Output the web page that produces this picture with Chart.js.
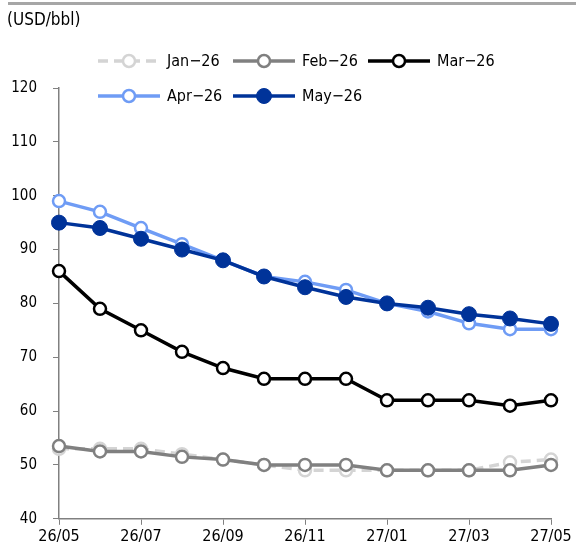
<!DOCTYPE html>
<html>
    <head>
        <meta charset="UTF-8">
        <title>Oil futures curve</title>
        <script src="https://cdn.jsdelivr.net/npm/chart.js@4.4.1/dist/chart.umd.min.js"></script>
        <style>
            html,body{margin:0;padding:0;background:#fff;}
            #chartContainer{width:576px;height:554px;position:relative;}
        </style>
    </head>
    <body>
        <div id="chartContainer">
            <canvas id="chart"></canvas>
        </div>
        <script>
            const FONT="'DejaVu Sans Condensed','Liberation Sans',sans-serif";

            // x axis: contract months
            const months=["26/05","26/06","26/07","26/08","26/09","26/10","26/11",
                "26/12","27/01","27/02","27/03","27/04","27/05"];
            const yTicks=[40,50,60,70,80,90,100,110,120];

            // one curve per forecast month
            const jan26=[53,53,53,52,51,50,49,49,49,49,49,50.5,51];
            const feb26=[53.5,52.5,52.5,51.5,51,50,50,50,49,49,49,49,50];
            const mar26=[86,79,75,71,68,66,66,66,62,62,62,61,62];
            const apr26=[99,97,94,91,88,85,84,82.5,80,78.5,76.3,75.2,75.2];
            const may26=[95,94,92,90,88,85,83,81.2,80,79.2,78,77.2,76.2];

            function openSeries(label,data,color,order,dash){
                return {
                    label,data,order,
                    borderColor:color,
                    backgroundColor:"#fff",
                    borderWidth:3.5,
                    borderDash:dash||[],
                    pointRadius:6,
                    pointBorderWidth:2.5,
                    pointBorderColor:color,
                    pointBackgroundColor:"#fff",
                    tension:0
                };
            }

            const datasets=[
                openSeries("Jan\u221226",jan26,"#d4d4d4",4,[10,6]),
                openSeries("Feb\u221226",feb26,"#808080",3),
                openSeries("Mar\u221226",mar26,"#000000",2),
                openSeries("Apr\u221226",apr26,"#6f9cf5",1),
                {
                    label:"May\u221226",data:may26,order:0,
                    borderColor:"#003399",
                    backgroundColor:"#003399",
                    borderWidth:3.5,
                    pointRadius:7.5,
                    pointBorderWidth:1,
                    pointBorderColor:"#003399",
                    pointBackgroundColor:"#003399",
                    tension:0
                }
            ];

            // title, top rule and two-row legend
            const decorations={
                id:"decorations",
                afterDraw(chart){
                    const ctx=chart.ctx;
                    ctx.save();
                    ctx.fillStyle="#a6a6a6";
                    ctx.fillRect(8,2,568,3);

                    ctx.fillStyle="#000";
                    ctx.font="17px "+FONT;
                    ctx.textBaseline="middle";
                    ctx.textAlign="left";
                    ctx.fillText("(USD/bbl)",7,21);

                    const cols=[98,233,368];
                    const rows=[61,96];
                    chart.data.datasets.forEach((ds,i)=>{
                        const x=cols[i%3];
                        const y=rows[Math.floor(i/3)];
                        ctx.strokeStyle=ds.borderColor;
                        ctx.lineWidth=ds.borderWidth;
                        ctx.setLineDash(ds.borderDash||[]);
                        ctx.beginPath();
                        ctx.moveTo(x,y);
                        ctx.lineTo(x+62,y);
                        ctx.stroke();
                        ctx.setLineDash([]);
                        ctx.beginPath();
                        ctx.arc(x+31,y,ds.pointRadius,0,Math.PI*2);
                        ctx.fillStyle=ds.pointBackgroundColor;
                        ctx.fill();
                        ctx.lineWidth=ds.pointBorderWidth;
                        ctx.strokeStyle=ds.pointBorderColor;
                        ctx.stroke();
                        ctx.fillStyle="#000";
                        ctx.font="16px "+FONT;
                        ctx.fillText(ds.label,x+69,y+1);
                    });
                    ctx.restore();
                }
            };

            const chart=new Chart(document.getElementById("chart"),{
                type:"line",
                data:{labels:months,datasets},
                options:{
                    responsive:true,
                    maintainAspectRatio:false,
                    animation:false,
                    layout:{padding:{top:88,left:8,right:25,bottom:6}},
                    plugins:{legend:{display:false},tooltip:{enabled:false}},
                    scales:{
                        x:{
                            offset:false,
                            grid:{
                                drawOnChartArea:false,
                                tickLength:6,
                                tickColor:c=>c.index%2===0?"#808080":"rgba(0,0,0,0)",
                                color:"#808080"
                            },
                            border:{color:"#808080",width:1.5},
                            ticks:{
                                autoSkip:false,
                                maxRotation:0,
                                padding:2,
                                color:"#000",
                                font:{family:FONT,size:16},
                                callback:(v,i)=>i%2===0?months[i]:""
                            }
                        },
                        y:{
                            min:40,max:120,
                            afterBuildTicks:axis=>{axis.ticks=yTicks.map(v=>({value:v}));},
                            afterFit:axis=>{axis.width=51;},
                            grid:{drawOnChartArea:false,tickLength:6,color:"#808080"},
                            border:{color:"#808080",width:1.5},
                            ticks:{
                                padding:16,
                                color:"#000",
                                font:{family:FONT,size:15}
                            }
                        }
                    }
                },
                plugins:[decorations]
            });
        </script>
    </body>
</html>
